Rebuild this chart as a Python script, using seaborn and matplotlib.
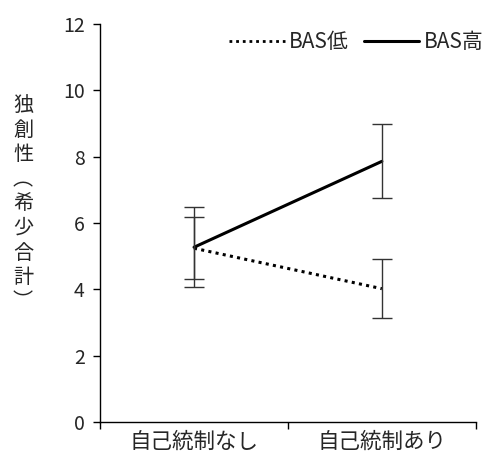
import matplotlib
matplotlib.use("Agg")
import matplotlib.pyplot as plt
import seaborn as sns
import pandas as pd
from matplotlib.lines import Line2D

conditions = ["自己統制なし", "自己統制あり"]
groups = ["BAS低", "BAS高"]
bas_low = [5.24, 4.02]
bas_low_err = [0.93, 0.89]
bas_high = [5.27, 7.86]
bas_high_err = [1.21, 1.12]
yticks = [0, 2, 4, 6, 8, 10, 12]

sns.set_theme(style="ticks")
plt.rcParams['font.family'] = ['Liberation Sans Narrow', 'Noto Sans CJK JP', 'DejaVu Sans']

df = pd.DataFrame({
    "cond": conditions * 2,
    "group": [groups[0]] * 2 + [groups[1]] * 2,
    "val": bas_low + bas_high,
})

fig = plt.figure(figsize=(4.86, 4.59), dpi=100)
ax = fig.add_axes([0.206, 0.0806, 0.773, 0.867])

sns.lineplot(data=df, x="cond", y="val", hue="group", style="group",
             palette={groups[0]: "black", groups[1]: "black"},
             dashes={groups[0]: (1, 1.4), groups[1]: ""},
             sort=False, ax=ax, legend=False)
for ln in ax.get_lines():
    ln.set_linewidth(2.2)

ax.errorbar([0, 1], bas_low, yerr=bas_low_err, fmt="none", ecolor="#333333",
            elinewidth=1.0, capsize=7, capthick=1.0)
ax.errorbar([0, 1], bas_high, yerr=bas_high_err, fmt="none", ecolor="#333333",
            elinewidth=1.0, capsize=7, capthick=1.0)

ax.set_xlim(-0.5, 1.5)
ax.set_ylim(0, 12)
ax.set_yticks(yticks)
ax.set_yticklabels([str(v) for v in yticks], fontsize=14)
ax.set_xticks([-0.5, 0.5, 1.5])
ax.set_xticklabels([])
ax.set_xticks([0, 1], minor=True)
ax.set_xticklabels(conditions, minor=True, fontsize=15.5)
ax.tick_params(axis="x", which="minor", length=0, pad=6)
ax.tick_params(axis="x", which="major", length=5, width=1, color="black")
ax.tick_params(axis="y", length=5, width=1, color="black", pad=6)
ax.set_xlabel("")
ax.set_ylabel("")
for s in ["top", "right"]:
    ax.spines[s].set_visible(False)
for s in ["left", "bottom"]:
    ax.spines[s].set_color("black")
    ax.spines[s].set_linewidth(1)

fig.text(23 / 486, 1 - 204 / 459, "\n".join(["独", "創", "性", "︵", "希", "少", "合", "計", "︶"]),
         ha="center", va="center", fontsize=14.5, linespacing=1.22,
         family=['Noto Sans CJK JP', 'DejaVu Sans'])

handles = [Line2D([], [], color="black", lw=2, dashes=(1, 1.4)),
           Line2D([], [], color="black", lw=2.2)]
ax.legend(handles, groups, ncol=2, frameon=False, loc="upper right",
          bbox_to_anchor=(1.07, 1.03), handlelength=2.65,
          columnspacing=0.75, handletextpad=0.2,
          prop={'family': ['Liberation Sans Narrow', 'Noto Sans CJK JP'], 'size': 15})

fig.savefig("out.png", dpi=100)
